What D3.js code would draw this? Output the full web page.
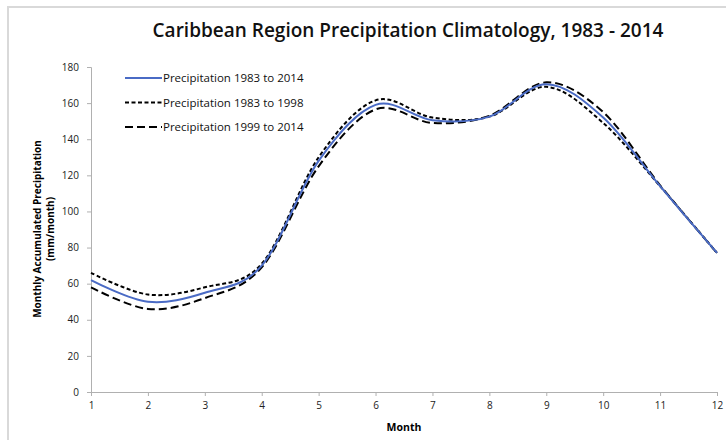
<!DOCTYPE html>
<html>
<head>
<meta charset="utf-8">
<script src="https://cdn.jsdelivr.net/npm/d3@7"></script>
<style>
  body { margin: 0; background: #fff; }
  text { font-family: "Open Sans", "Liberation Sans", sans-serif; }
</style>
</head>
<body>
<div id="chart"></div>
<script>
const months = [1, 2, 3, 4, 5, 6, 7, 8, 9, 10, 11, 12];
const precipAll = [62, 50, 55, 70, 128, 159, 150.5, 152.5, 170.5, 152, 114, 77];
const precip8398 = [66, 54, 58, 71, 130, 161.5, 152, 152.5, 169, 149, 114, 77];
const precip9914 = [58, 46, 52, 69, 125, 156.5, 149, 153, 171.5, 155, 114.5, 77];
const yTicks = [0, 20, 40, 60, 80, 100, 120, 140, 160, 180];

const width = 726, height = 440;
const x = d3.scaleLinear().domain([1, 12]).range([91, 717]);
const y = d3.scaleLinear().domain([0, 180]).range([392, 67]);

const svg = d3.select("#chart").append("svg")
  .attr("width", width).attr("height", height);

// outer frame
svg.append("rect")
  .attr("x", 8).attr("y", 7).attr("width", 740).attr("height", 450)
  .attr("fill", "none").attr("stroke", "#d9d9d9").attr("stroke-width", 2);

svg.append("text")
  .attr("x", 408).attr("y", 37)
  .attr("text-anchor", "middle")
  .attr("font-size", 19).attr("font-weight", 600).attr("fill", "#111")
  .text("Caribbean Region Precipitation Climatology, 1983 - 2014");

// axes
const yAxis = svg.append("g")
  .attr("transform", `translate(${x(1)},0)`)
  .call(d3.axisLeft(y).tickValues(yTicks).tickSize(4).tickPadding(8));
const xAxis = svg.append("g")
  .attr("transform", `translate(0,${y(0)})`)
  .call(d3.axisBottom(x).tickValues(months).tickSize(4).tickPadding(6));
[yAxis, xAxis].forEach(g => {
  g.select(".domain").attr("stroke", "#b0b0b0");
  g.selectAll(".tick line").attr("stroke", "#b0b0b0");
  g.selectAll(".tick text").attr("fill", "#222").attr("font-size", 10)
    .style("font-family", "'Open Sans', sans-serif");
});

// axis titles
svg.append("text")
  .attr("x", x(6.5)).attr("y", 431)
  .attr("text-anchor", "middle").attr("font-size", 10.5).attr("font-weight", 700)
  .text("Month");
const yt = svg.append("text")
  .attr("transform", "translate(41,229) rotate(-90)")
  .attr("text-anchor", "middle").attr("font-size", 10).attr("font-weight", 700);
yt.append("tspan").attr("x", 0).attr("dy", 0).text("Monthly Accumulated Precipitation");
yt.append("tspan").attr("x", 0).attr("dy", 12.5).text("(mm/month)");

const series = [
  { name: "Precipitation 1983 to 2014", values: precipAll, color: "#4a6bc5", dash: null },
  { name: "Precipitation 1983 to 1998", values: precip8398, color: "#000", dash: "4,2.5" },
  { name: "Precipitation 1999 to 2014", values: precip9914, color: "#000", dash: "8,4" }
];

const line = d3.line()
  .x((d, i) => x(months[i]))
  .y(d => y(d))
  .curve(d3.curveCardinal);

// draw dashed first, blue on top
[series[2], series[1], series[0]].forEach(s => {
  svg.append("path")
    .datum(s.values)
    .attr("d", line)
    .attr("fill", "none")
    .attr("stroke", s.color)
    .attr("stroke-width", 2)
    .attr("stroke-dasharray", s.dash);
});

// legend
const legend = svg.append("g").attr("transform", "translate(125,78)");
series.forEach((s, i) => {
  const g = legend.append("g").attr("transform", `translate(0,${i * 24.5})`);
  g.append("line").attr("x1", 0).attr("x2", 37).attr("y1", 0).attr("y2", 0)
    .attr("stroke", s.color).attr("stroke-width", 2).attr("stroke-dasharray", s.dash);
  g.append("text").attr("x", 38).attr("y", 4).attr("font-size", 11.5).attr("fill", "#111")
    .text(s.name);
});
</script>
</body>
</html>
